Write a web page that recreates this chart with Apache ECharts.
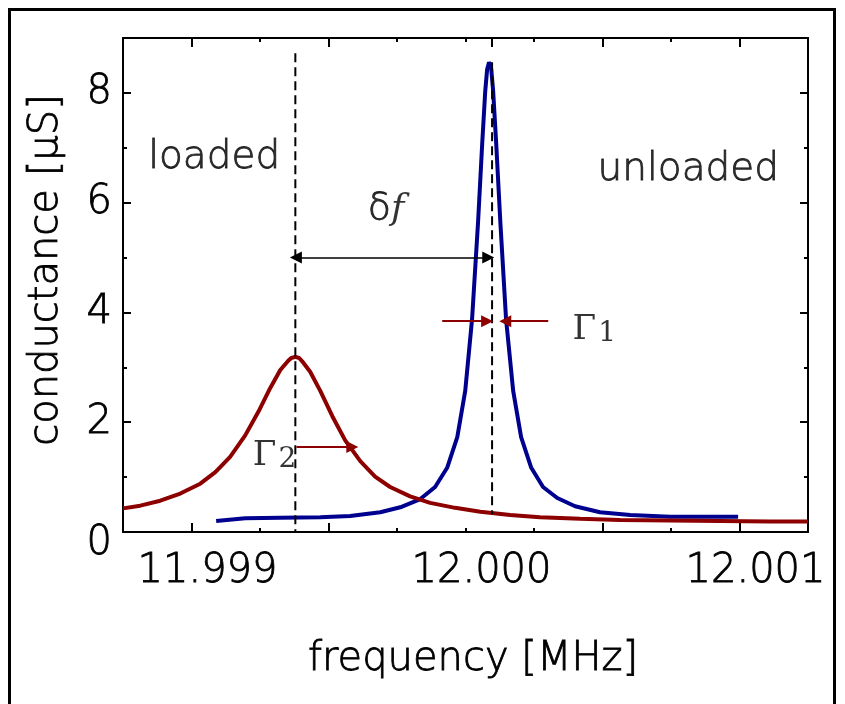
<!DOCTYPE html>
<html>
<head>
<meta charset="utf-8">
<script src="https://cdn.jsdelivr.net/npm/echarts@6/dist/echarts.min.js"></script>
<style>
html,body{margin:0;padding:0;background:#fff;overflow:hidden;width:845px;height:704px;}
#chart{position:absolute;left:0;top:0;width:845px;height:704px;}
#frame{position:absolute;left:8px;top:8px;width:828px;height:740px;border:3px solid #000;box-sizing:border-box;pointer-events:none;}
</style>
</head>
<body>
<div id="chart"></div>
<div id="frame"></div>
<script>
// ---------- data ----------
// unloaded resonator (blue), frequency in MHz, conductance in µS
const unloadedFreq = [11.999090, 11.999196, 11.999324, 11.999470, 11.999579, 11.999689, 11.999762, 11.999835, 11.999889, 11.999933,
  11.999970, 11.999999, 12.000024, 12.000046, 12.000061, 12.000072, 12.000079, 12.000086, 12.000094, 12.000101,
  12.000112, 12.000127, 12.000148, 12.000174, 12.000203, 12.000240, 12.000283, 12.000335, 12.000400, 12.000491,
  12.000601, 12.000747, 12.000893, 12.000995];
const unloadedG = [0.20, 0.25, 0.26, 0.27, 0.29, 0.36, 0.45, 0.60, 0.82, 1.17,
  1.73, 2.57, 3.88, 5.66, 7.08, 8.03, 8.43, 8.56, 8.43, 8.03,
  7.08, 5.66, 3.88, 2.57, 1.73, 1.17, 0.82, 0.62, 0.47, 0.36,
  0.31, 0.28, 0.28, 0.28];

// loaded resonator (red)
const loadedFreq = [11.99875, 11.998813, 11.998886, 11.998959, 11.999032, 11.999087, 11.999141, 11.999196, 11.999244, 11.999287,
  11.999324, 11.999353, 11.999364, 11.999379, 11.999393, 11.999404, 11.999433, 11.999470, 11.999514, 11.999561,
  11.999616, 11.999670, 11.999725, 11.999798, 11.999871, 11.999962, 12.000054, 12.000163, 12.000272, 12.000418,
  12.000564, 12.000747, 12.000929, 12.001112, 12.00125];
const loadedG = [0.43, 0.48, 0.57, 0.70, 0.88, 1.09, 1.37, 1.76, 2.19, 2.62,
  2.95, 3.12, 3.17, 3.19, 3.17, 3.11, 2.92, 2.57, 2.11, 1.67,
  1.29, 1.01, 0.82, 0.65, 0.53, 0.44, 0.37, 0.31, 0.27, 0.24,
  0.22, 0.21, 0.20, 0.19, 0.19];

// resonance marker lines (dashed)
const loadedMarker = [[11.999379, 8.72], [11.999379, 0.02]];
const unloadedMarker = [[12.000097, 8.56], [12.000097, 0.33]];

// arrows
const deltaFArrow = [[11.999381, 5.0], [12.000083, 5.0]];
const gammaArrows = [
  [[11.999915, 3.84], [12.000079, 3.84]],
  [[12.000302, 3.84], [12.000145, 3.84]],
  [[11.999383, 1.55], [11.999587, 1.55]]
];

// annotation texts and anchor points (left edge, vertical centre)
const annotationText = ['loaded', 'unloaded', 'delta', 'gamma1', 'gamma2'];
const annotationPos = [[11.99884, 6.81], [12.000480, 6.59], [11.999641, 5.88], [12.000389, 3.67], [11.999222, 1.38]];

// axes
const xMin = 11.99875, xMax = 12.00125, xStep = 0.00025;
const xLabelValues = [11.999, 12.000, 12.001];
const xLongTicksBottom = [11.999, 11.9995, 12.0005, 12.001];
const xLongTicksTop = [11.999, 11.9995, 12.000097, 12.0005, 12.001];
const yMin = 0, yMax = 9;
const yLabelValues = [0, 2, 4, 6, 8];
const yMinorTicks = [1, 3, 5, 7];

// ---------- chart ----------
const FONT = '"DejaVu Sans", "Liberation Sans", sans-serif';
const SERIF = '"DejaVu Serif", "Liberation Serif", serif';
const W = 200;
const TB = {textBorderColor: '#000', textBorderWidth: 0.8};
const BLUE = '#00008f';
const RED = '#8c0000';
const black = {color: '#000', width: 2};

function xAxisBase(pos) {
  return {
    type: 'value', min: xMin, max: xMax, interval: xStep, position: pos,
    splitLine: {show: false},
    axisLine: {show: false, onZero: false},
    axisTick: {show: false},
    axisLabel: {show: false}
  };
}
function yAxisBase(pos) {
  return {
    type: 'value', min: yMin, max: yMax, interval: 1, position: pos,
    splitLine: {show: false},
    axisLine: {show: false, onZero: false},
    axisTick: {show: false},
    axisLabel: {show: false}
  };
}

const xAxes = [
  Object.assign(xAxisBase('bottom'), {
    axisLine: {show: true, onZero: false, lineStyle: black},
    axisTick: {show: true, inside: true, length: 4, lineStyle: black},
    axisLabel: Object.assign({
      show: true, customValues: xLabelValues,
      formatter: v => v.toFixed(3),
      fontFamily: FONT, fontWeight: W, fontSize: 40, color: '#000', margin: 20,
      padding: [0, 0, 0, 32]
    }, TB),
    name: 'frequency [MHz]', nameLocation: 'middle', nameGap: 108,
    nameTextStyle: Object.assign({fontFamily: FONT, fontWeight: W, fontSize: 40, color: '#000', padding: [0, 0, 0, 15]}, TB)
  }),
  Object.assign(xAxisBase('top'), {
    axisLine: {show: true, onZero: false, lineStyle: black},
    axisTick: {show: true, inside: true, length: 4, lineStyle: black}
  }),
  Object.assign(xAxisBase('bottom'), {
    axisTick: {show: true, inside: true, length: 9, customValues: xLongTicksBottom, lineStyle: black}
  }),
  Object.assign(xAxisBase('top'), {
    axisTick: {show: true, inside: true, length: 9, customValues: xLongTicksTop, lineStyle: black}
  })
];

const yAxes = [
  Object.assign(yAxisBase('left'), {
    axisLine: {show: true, onZero: false, lineStyle: black},
    axisTick: {show: true, inside: true, length: 8, customValues: yLabelValues, lineStyle: black},
    axisLabel: Object.assign({
      show: true, customValues: yLabelValues,
      formatter: v => v === 0 ? '{z|0}' : String(v),
      fontFamily: FONT, fontWeight: W, fontSize: 40, color: '#000', margin: 11,
      rich: {z: Object.assign({fontFamily: FONT, fontWeight: W, fontSize: 40, color: '#000', padding: [24, 0, 0, 0]}, TB)}
    }, TB),
    name: 'conductance [µS]', nameLocation: 'middle', nameGap: 56,
    nameTextStyle: Object.assign({fontFamily: FONT, fontWeight: W, fontSize: 40, color: '#000', padding: [0, 0, 0, 30]}, TB)
  }),
  Object.assign(yAxisBase('right'), {
    axisLine: {show: true, onZero: false, lineStyle: black},
    axisTick: {show: true, inside: true, length: 8, customValues: yLabelValues, lineStyle: black}
  }),
  Object.assign(yAxisBase('left'), {
    axisTick: {show: true, inside: true, length: 4, customValues: yMinorTicks, lineStyle: black}
  }),
  Object.assign(yAxisBase('right'), {
    axisTick: {show: true, inside: true, length: 4, customValues: yMinorTicks, lineStyle: black}
  })
];

const zip = (a, b) => a.map((v, i) => [v, b[i]]);

const richStyles = {
  n: Object.assign({fontFamily: FONT, fontWeight: W, fontSize: 39, color: '#000'}, TB),
  d: Object.assign({fontFamily: FONT, fontWeight: W, fontSize: 38, color: '#000'}, TB),
  i: {fontFamily: SERIF, fontSize: 36, fontStyle: 'italic', color: '#000'},
  g: {fontFamily: SERIF, fontSize: 34, color: '#000', lineHeight: 34, verticalAlign: 'top'},
  s: {fontFamily: SERIF, fontSize: 28, color: '#000', lineHeight: 28, verticalAlign: 'bottom', padding: [20, 0, 0, 2]}
};
function annotationLabel(key) {
  if (key === 'delta') return '{d|δ}{i|f}';
  if (key === 'gamma1') return '{g|Γ}{s|1}';
  if (key === 'gamma2') return '{g|Γ}{s|2}';
  return '{n|' + key + '}';
}

const option = {
  animation: false,
  backgroundColor: 'transparent',
  grid: {left: 123, top: 38, right: 37, bottom: 172, containLabel: false},
  xAxis: xAxes,
  yAxis: yAxes,
  series: [
    {
      name: 'unloaded', type: 'line', data: zip(unloadedFreq, unloadedG),
      showSymbol: false, symbol: 'none', smooth: false, z: 3,
      lineStyle: {color: BLUE, width: 4}
    },
    {
      name: 'loaded', type: 'line', data: zip(loadedFreq, loadedG),
      showSymbol: false, symbol: 'none', smooth: false, z: 4,
      lineStyle: {color: RED, width: 4}
    },
    {
      type: 'line', data: loadedMarker, showSymbol: false, symbol: 'none', z: 5,
      lineStyle: {color: '#000', width: 2, type: [9, 5]}
    },
    {
      type: 'line', data: unloadedMarker, showSymbol: false, symbol: 'none', z: 5,
      lineStyle: {color: '#000', width: 2, type: [9, 5]}
    },
    {
      type: 'lines', coordinateSystem: 'cartesian2d', z: 6,
      symbol: ['triangle', 'triangle'], symbolSize: 12,
      lineStyle: {color: '#000', width: 1.5, opacity: 1},
      data: [{coords: deltaFArrow}]
    },
    {
      type: 'lines', coordinateSystem: 'cartesian2d', z: 6,
      symbol: ['none', 'triangle'], symbolSize: 12,
      lineStyle: {color: RED, width: 2, opacity: 1},
      data: gammaArrows.map(c => ({coords: c}))
    },
    {
      type: 'scatter', z: 7, symbolSize: 1, silent: true,
      itemStyle: {color: 'rgba(0,0,0,0)'},
      data: annotationPos.map((p, k) => ({value: p, name: annotationText[k]})),
      label: {
        show: true, position: 'right', distance: 0, color: '#000',
        formatter: p => annotationLabel(p.name),
        rich: richStyles
      }
    }
  ]
};

const chart = echarts.init(document.getElementById('chart'), null, {renderer: 'canvas', width: 845, height: 704});
chart.setOption(option);
</script>
</body>
</html>
